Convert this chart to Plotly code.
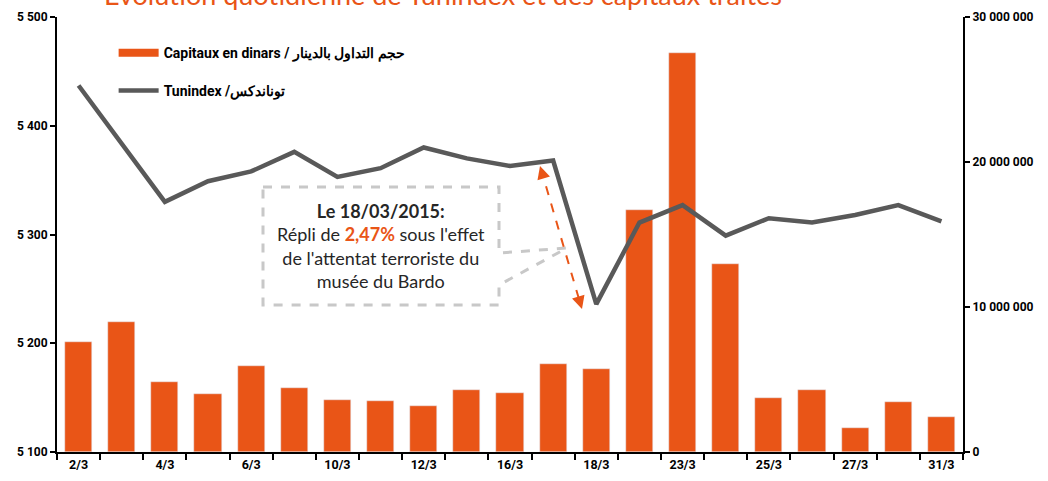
import plotly.graph_objects as go

# ---- data ----
dates = ['2/3', '3/3', '4/3', '5/3', '6/3', '9/3', '10/3', '11/3', '12/3', '13/3',
         '16/3', '17/3', '18/3', '19/3', '23/3', '24/3', '25/3', '26/3', '27/3',
         '30/3', '31/3']
tunindex = [5437, 5383, 5330, 5349, 5358, 5376, 5353, 5361, 5380, 5370,
            5363, 5368, 5236, 5311, 5327, 5299, 5315, 5311, 5318, 5327, 5312]
capitaux = [7.6e6, 9.0e6, 4.8e6, 4.0e6, 5.9e6, 4.4e6, 3.6e6, 3.5e6, 3.2e6, 4.3e6,
            4.1e6, 6.1e6, 5.7e6, 16.7e6, 27.5e6, 13.0e6, 3.7e6, 4.3e6, 1.65e6,
            3.45e6, 2.4e6]
tick_labels = dates[::2]
left_ticks = [5100, 5200, 5300, 5400, 5500]
right_ticks = [0, 10000000, 20000000, 30000000]

name_cap = "Capitaux en dinars / حجم التداول بالدينار"
name_tun = "Tunindex /توناندكس"

ORANGE = "#E95517"
GREY = "#595959"
AXFONT = dict(family="Roboto, sans-serif", size=12.5, color="black", weight="bold")
LEGFONT = dict(AXFONT, size=14)

idx = list(range(len(dates)))

fig = go.Figure()
fig.add_trace(go.Bar(x=idx, y=capitaux, marker_color=ORANGE, width=0.63,
                     yaxis="y", showlegend=False, name=name_cap))
# legend entry for the bars (drawn as thick line like the reference)
fig.add_trace(go.Scatter(x=[None], y=[None], mode="lines", name=name_cap,
                         line=dict(color=ORANGE, width=8), yaxis="y",
                         legend="legend"))
fig.add_trace(go.Scatter(x=idx, y=tunindex, mode="lines", name=name_tun,
                         line=dict(color=GREY, width=4.5), yaxis="y2",
                         legend="legend2"))

fig.update_layout(
    width=1048, height=481,
    margin=dict(l=57, r=85, t=17, b=29),
    paper_bgcolor="white", plot_bgcolor="white",
    separators=", ",
    bargap=0,
    xaxis=dict(range=[-0.5, len(dates) - 0.5], tickmode="array", tickvals=idx[::2],
               ticktext=tick_labels, showline=True, linecolor="black", linewidth=2,
               ticks="", showgrid=False, zeroline=False, tickfont=AXFONT,
               automargin=False,
               minor=dict(tickmode="linear", tick0=-0.5, dtick=1, ticks="outside",
                          ticklen=6, tickwidth=2, tickcolor="black", showgrid=False)),
    yaxis=dict(side="right", range=[0, 30000000], tickmode="array", tickvals=right_ticks,
               tickformat=",d", showline=True, linecolor="black", linewidth=2,
               ticks="outside", ticklen=5, tickwidth=2, tickcolor="black",
               showgrid=False, zeroline=False, tickfont=dict(AXFONT, size=12),
               automargin=False),
    yaxis2=dict(side="left", overlaying="y", range=[5100, 5500], tickmode="array",
                tickvals=left_ticks, tickformat=",d", showline=True, linecolor="black",
                linewidth=2, ticks="outside", ticklen=5, tickwidth=2, tickcolor="black",
                showgrid=False, zeroline=False, tickfont=dict(AXFONT, size=12),
                automargin=False),
    legend=dict(x=0.0625, y=0.917, xanchor="left", yanchor="middle",
                bgcolor="rgba(0,0,0,0)", font=LEGFONT, itemwidth=40),
    legend2=dict(x=0.0625, y=0.83, xanchor="left", yanchor="middle",
                 bgcolor="rgba(0,0,0,0)", font=LEGFONT, itemwidth=40),
)

# title (clipped at top as in reference)
fig.add_annotation(text="Evolution quotidienne de Tunindex et des capitaux traités",
                   xref="paper", yref="paper", x=0.426, y=1.01, xanchor="center",
                   yanchor="bottom", showarrow=False,
                   font=dict(family="Lato, sans-serif", size=27, color=ORANGE,
                             weight="normal"))

# callout box
def px(xp):
    return (xp - 57) / 906


def py(yp):
    return (452 - yp) / 435


path = (f"M {px(263)},{py(187)} L {px(499)},{py(187)} L {px(499)},{py(253)} "
        f"L {px(567)},{py(248)} L {px(499)},{py(285)} L {px(499)},{py(305)} "
        f"L {px(263)},{py(305)} Z")
fig.add_shape(type="path", path=path, xref="paper", yref="paper",
              line=dict(color="#C8C8C8", width=3, dash="dash"), fillcolor="rgba(0,0,0,0)")

fig.add_annotation(
    text=("<b>Le 18/03/2015:</b><br>Répli de <b><span style='color:" + ORANGE +
          "'>2,47%</span></b> sous l'effet<br>de l'attentat terroriste du<br>musée du Bardo"),
    xref="paper", yref="paper", x=px(381), y=py(246), xanchor="center", yanchor="middle",
    showarrow=False, align="center",
    font=dict(family="Lato, sans-serif", size=18, color="#262626"))

# orange dashed double arrow
fig.add_shape(type="line", xref="paper", yref="paper",
              x0=px(541), y0=py(169), x1=px(581), y1=py(306),
              line=dict(color=ORANGE, width=2, dash="dash"))
fig.add_annotation(xref="paper", yref="paper", x=px(582), y=py(309), ax=-3, ay=-10,
                   text="", showarrow=True, arrowhead=2, arrowsize=1.3, arrowwidth=2,
                   arrowcolor=ORANGE)
fig.add_annotation(xref="paper", yref="paper", x=px(540), y=py(166), ax=3, ay=10,
                   text="", showarrow=True, arrowhead=2, arrowsize=1.3, arrowwidth=2,
                   arrowcolor=ORANGE)

fig.write_html("out.html", config={"displayModeBar": False},
               post_script="document.body.style.margin='0';document.body.style.padding='0';")
